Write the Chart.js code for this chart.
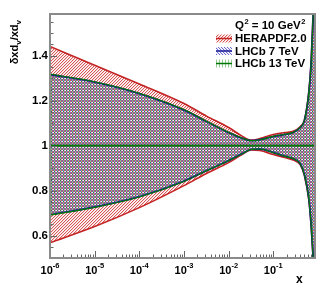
<!DOCTYPE html>
<html><head><meta charset="utf-8">
<script src="https://cdn.jsdelivr.net/npm/chart.js@4.4.0/dist/chart.umd.min.js"></script>
<style>html,body{margin:0;padding:0;background:#fff}#wrap{width:332px;height:288px;position:relative}</style>
</head><body>
<div id="wrap"><canvas id="c"></canvas></div>
<script>
// ---- data ----
const xValues   = [1e-6, 1e-5, 1e-4, 1e-3, 3.2e-3, 1e-2, 0.02, 0.032, 0.05, 0.1, 0.18, 0.28, 0.4, 0.5, 0.63, 0.71, 0.79, 0.86];
const heraUp    = [1.441, 1.357, 1.274, 1.187, 1.131, 1.080, 1.042, 1.024, 1.031, 1.049, 1.058, 1.064, 1.084, 1.115, 1.245, 1.385, 1.605, 1.76];
const heraDown  = [0.568, 0.640, 0.724, 0.822, 0.876, 0.924, 0.960, 0.980, 0.978, 0.960, 0.947, 0.936, 0.915, 0.865, 0.755, 0.635, 0.485, 0.34];
const lhcb7Up   = [1.316, 1.282, 1.231, 1.158, 1.107, 1.058, 1.033, 1.022, 1.026, 1.040, 1.049, 1.058, 1.080, 1.112, 1.240, 1.380, 1.600, 1.76];
const lhcb7Down = [0.693, 0.727, 0.773, 0.842, 0.889, 0.933, 0.964, 0.983, 0.985, 0.969, 0.953, 0.942, 0.920, 0.870, 0.760, 0.640, 0.490, 0.34];
const lhcb13Up  = [1.318, 1.284, 1.233, 1.160, 1.108, 1.059, 1.034, 1.022, 1.026, 1.041, 1.050, 1.059, 1.081, 1.113, 1.242, 1.382, 1.602, 1.76];
const lhcb13Down= [0.691, 0.725, 0.771, 0.840, 0.888, 0.932, 0.963, 0.983, 0.985, 0.968, 0.952, 0.941, 0.919, 0.869, 0.758, 0.638, 0.488, 0.34];
const centralValues = [1, 1, 1, 1, 1, 1, 1, 1, 1, 1, 1, 1, 1, 1, 1, 1, 1, 1];
const seriesNames = ['HERAPDF2.0', 'LHCb 7 TeV', 'LHCb 13 TeV'];
const yMajorTicks = [0.6, 0.8, 1, 1.2, 1.4];
const yTickLabels = ['0.6', '0.8', '1', '1.2', '1.4'];
const xMajorExponents = [-6, -5, -4, -3, -2, -1];
const yTitleParts = ['δxd', 'v', '/xd', 'v'];
const scaleLabel = ['Q', '2', ' = 10 GeV', '2'];

// ---- styles ----
const FONT = '"Liberation Sans", Arial, Helvetica, sans-serif';
const colors = {
  hera: {line: 'rgb(195,35,35)', hatch: [205, 45, 45], a: [0.8, 0.2], w: 1.6, cw: 1.6},
  l7:   {line: 'rgb(25,25,150)', hatch: [45, 45, 190], a: [0.7, 0.12], w: 1.9, cw: 1.4},
  l13:  {line: 'rgb(0,120,0)',   hatch: [20, 140, 20], a: [0.45, 0], w: 1.1, cw: 1.8}
};
function makePattern(col, type) {
  const rgb = col.hatch;
  const c = document.createElement('canvas'); c.width = 3; c.height = 3;
  const g = c.getContext('2d');
  for (let x = 0; x < 3; x++) for (let y = 0; y < 3; y++) {
    let k;
    if (type === '/') k = (x + y) % 3;
    else if (type === '\\') k = ((x - y) % 3 + 3) % 3;
    else k = x % 3;
    const a = k === 0 ? col.a[0] : (k === 1 ? col.a[1] : 0);
    if (a > 0) { g.fillStyle = `rgba(${rgb[0]},${rgb[1]},${rgb[2]},${a})`; g.fillRect(x, y, 1, 1); }
  }
  const cv = document.createElement('canvas').getContext('2d');
  return cv.createPattern(c, 'repeat');
}
const patHera = makePattern(colors.hera, '/');
const pat7 = makePattern(colors.l7, '\\');
const pat13 = makePattern(colors.l13, '|');

function pts(arr) { return arr.map((v, i) => ({x: xValues[i], y: v})); }
function band(name, up, down, col, pat, order) {
  const common = {pointRadius: 0, borderWidth: col.w, borderColor: col.line, cubicInterpolationMode: 'monotone', order};
  return [
    Object.assign({label: name + ' up', data: pts(up), fill: '+1', backgroundColor: pat}, common),
    Object.assign({label: name + ' down', data: pts(down), fill: false}, common),
    Object.assign({}, common, {label: name, data: pts(centralValues), fill: false, borderWidth: col.cw})
  ];
}

const decor = {
  id: 'decor',
  afterDatasetsDraw(chart) {
    const ctx = chart.ctx, xs = chart.scales.x, ys = chart.scales.y, a = chart.chartArea;
    ctx.save();
    ctx.strokeStyle = '#666'; ctx.lineWidth = 1;
    ctx.beginPath();
    for (let v = 0.5; v <= 1.5801; v += 0.05) {
      const vv = Math.round(v * 100) / 100;
      const major = yMajorTicks.some(t => Math.abs(t - vv) < 1e-6);
      const py = Math.round(ys.getPixelForValue(vv)) + 0.5;
      ctx.moveTo(a.left, py); ctx.lineTo(a.left + (major ? 7 : 3.5), py);
    }
    for (let e = -6; e <= 0; e++) {
      for (let k = 1; k <= 9; k++) {
        const v = k * Math.pow(10, e);
        if (v < 1e-6 || v > 0.86) continue;
        const px = Math.round(xs.getPixelForValue(v)) + 0.5;
        ctx.moveTo(px, a.bottom); ctx.lineTo(px, a.bottom - (k === 1 ? 7 : 3.5));
      }
    }
    ctx.stroke();
    ctx.strokeStyle = '#8a8a8a'; ctx.lineWidth = 2;
    ctx.strokeRect(a.left, a.top, a.right - a.left, a.bottom - a.top);
    ctx.restore();
  },
  afterDraw(chart) {
    const ctx = chart.ctx, xs = chart.scales.x;
    ctx.save();
    ctx.fillStyle = '#000';
    ctx.textBaseline = 'alphabetic';
    xMajorExponents.forEach(e => {
      const px = xs.getPixelForValue(Math.pow(10, e));
      ctx.font = 'bold 11px ' + FONT;
      const w1 = ctx.measureText('10').width;
      ctx.font = 'bold 7.5px ' + FONT;
      const es = '-' + Math.abs(e);
      const w2 = ctx.measureText(es).width;
      const x0 = px - (w1 + w2) / 2;
      ctx.font = 'bold 11px ' + FONT;
      ctx.fillText('10', x0, 274);
      ctx.font = 'bold 7.5px ' + FONT;
      ctx.fillText(es, x0 + w1, 268);
    });
    ctx.font = 'bold 12px ' + FONT;
    ctx.fillText('x', 296, 283);
    const big = 'bold 11px ' + FONT, small = 'bold 8px ' + FONT;
    const fonts = [big, small, big, small];
    let w = 0;
    yTitleParts.forEach((s, i) => { ctx.font = fonts[i]; w += ctx.measureText(s).width; });
    ctx.save();
    ctx.translate(18, 20 + w);
    ctx.rotate(-Math.PI / 2);
    let cx = 0;
    yTitleParts.forEach((s, i) => {
      ctx.font = fonts[i];
      ctx.fillText(s, cx, i % 2 ? 3 : 0);
      cx += ctx.measureText(s).width;
    });
    ctx.restore();
    const hf = ['bold 11.5px ' + FONT, 'bold 7.5px ' + FONT, 'bold 11.5px ' + FONT, 'bold 7.5px ' + FONT];
    let lx = 235;
    scaleLabel.forEach((s, i) => {
      ctx.font = hf[i];
      ctx.fillText(s, lx, i % 2 ? 24 : 28.5);
      lx += ctx.measureText(s).width + (i % 2 ? 0 : 0.5);
    });
    const ents = [[seriesNames[0], patHera, colors.hera.line, 38.5], [seriesNames[1], pat7, colors.l7.line, 51], [seriesNames[2], pat13, colors.l13.line, 63.5]];
    ents.forEach(([name, pat, col, cy]) => {
      ctx.fillStyle = pat;
      ctx.fillRect(216, cy - 4, 16, 8);
      ctx.strokeStyle = col; ctx.lineWidth = 1.5;
      ctx.beginPath(); ctx.moveTo(216, cy); ctx.lineTo(232, cy); ctx.stroke();
      ctx.fillStyle = '#000';
      ctx.font = 'bold 11.5px ' + FONT;
      ctx.textBaseline = 'middle';
      ctx.fillText(name, 235, cy + 0.5);
      ctx.textBaseline = 'alphabetic';
    });
    ctx.restore();
  }
};

new Chart(document.getElementById('c'), {
  type: 'line',
  data: {
    datasets: [
      ...band(seriesNames[0], heraUp, heraDown, colors.hera, patHera, 3),
      ...band(seriesNames[1], lhcb7Up, lhcb7Down, colors.l7, pat7, 2),
      ...band(seriesNames[2], lhcb13Up, lhcb13Down, colors.l13, pat13, 1)
    ]
  },
  options: {
    responsive: true, maintainAspectRatio: false, animation: false,
    layout: {padding: {top: 14, right: 17, left: 0, bottom: 0}},
    plugins: {legend: {display: false}, tooltip: {enabled: false}},
    scales: {
      x: {
        type: 'logarithmic', min: 1e-6, max: 0.86,
        grid: {display: false, drawTicks: false}, border: {display: false},
        ticks: {display: false},
        afterFit(s) { s.height = 30; }
      },
      y: {
        type: 'linear', min: 0.5, max: 1.585,
        grid: {display: false, drawTicks: false}, border: {display: false},
        afterBuildTicks(s) { s.ticks = yMajorTicks.map(v => ({value: v})); },
        ticks: {
          padding: 2, color: '#000',
          font: {family: FONT, size: 11.5, weight: 'bold'},
          callback(v) { const i = yMajorTicks.findIndex(t => Math.abs(t - v) < 1e-6); return i >= 0 ? yTickLabels[i] : ''; }
        },
        afterFit(s) { s.width = 50; }
      }
    }
  },
  plugins: [decor]
});
</script>
</body></html>
